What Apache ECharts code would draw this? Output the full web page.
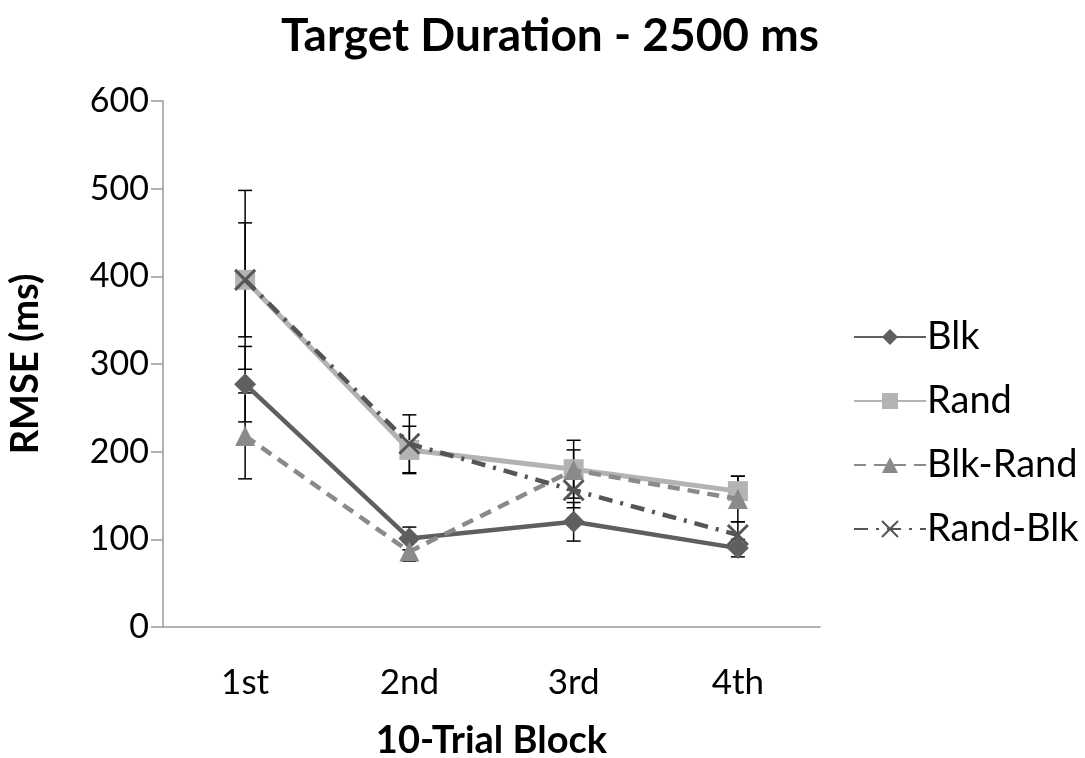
<!DOCTYPE html>
<html>
<head>
<meta charset="utf-8">
<script src="https://cdn.jsdelivr.net/npm/echarts@6/dist/echarts.min.js"></script>
<style>
  html, body { margin: 0; padding: 0; background: #fff; }
  #chart { width: 1085px; height: 758px; }
</style>
</head>
<body>
<div id="chart"></div>
<script>
// data
const blocks = ['1st', '2nd', '3rd', '4th']
const blk = [277, 101, 120, 90]
const blkErr = [43, 13, 22, 10]
const rand = [396, 202, 180, 155]
const randErr = [102, 27, 33, 17]
const blkRand = [218, 86, 179, 146]
const blkRandErr = [49, 11, 23, 26]
const randBlk = [396, 209, 156, 105]
const randBlkErr = [65, 33, 20, 15]

const FONT = 'Lato'

function errData(vals, errs) {
  return vals.map((v, i) => [i, v - errs[i], v + errs[i]])
}

// error bars: vertical line + caps
function errSeries(vals, errs) {
  return {
    type: 'custom',
    z: 1,
    silent: true,
    data: errData(vals, errs),
    renderItem: function (params, api) {
      const lo = api.coord([api.value(0), api.value(1)])
      const hi = api.coord([api.value(0), api.value(2)])
      const w = 7
      const st = { stroke: '#000', lineWidth: 1.5 }
      return {
        type: 'group',
        children: [
          { type: 'line', shape: { x1: hi[0], y1: hi[1], x2: lo[0], y2: lo[1] }, style: st },
          { type: 'line', shape: { x1: hi[0] - w, y1: hi[1], x2: hi[0] + w, y2: hi[1] }, style: st },
          { type: 'line', shape: { x1: lo[0] - w, y1: lo[1], x2: lo[0] + w, y2: lo[1] }, style: st }
        ]
      }
    }
  }
}

const chart = echarts.init(document.getElementById('chart'))
chart.setOption({
  animation: false,
  title: {
    text: 'Target Duration - 2500 ms',
    left: 545,
    textAlign: 'center',
    top: 8,
    textStyle: { fontFamily: FONT, fontWeight: 'bold', fontSize: 46, color: '#000' }
  },
  legend: {
    orient: 'vertical',
    left: 848,
    top: 313,
    itemWidth: 72,
    itemHeight: 20,
    itemGap: 26,
    textStyle: { fontFamily: FONT, fontSize: 38, color: '#000', padding: [0, 0, 0, -4] },
    data: ['Blk', 'Rand', 'Blk-Rand', 'Rand-Blk']
  },
  grid: { left: 163, right: 265, top: 101, bottom: 131, containLabel: false, outerBoundsMode: 'none' },
  xAxis: {
    type: 'category',
    data: blocks,
    name: '10-Trial Block',
    nameLocation: 'middle',
    nameGap: 95,
    nameTextStyle: { fontFamily: FONT, fontWeight: 'bold', fontSize: 38, color: '#000' },
    axisLine: { lineStyle: { color: '#999', width: 1.5 } },
    axisTick: { length: 13, lineStyle: { color: '#999', width: 1.5 } },
    axisLabel: { fontFamily: FONT, fontSize: 35, color: '#000', margin: 38 }
  },
  yAxis: {
    type: 'value',
    min: 0,
    max: 600,
    interval: 100,
    name: 'RMSE (ms)',
    nameLocation: 'middle',
    nameRotate: 90,
    nameGap: 118,
    nameTextStyle: { fontFamily: FONT, fontWeight: 'bold', fontSize: 38, color: '#000' },
    splitLine: { show: false },
    axisLine: { show: true, lineStyle: { color: '#999', width: 1.5 } },
    axisTick: { show: true, length: 12, lineStyle: { color: '#999', width: 1.5 } },
    axisLabel: { fontFamily: FONT, fontSize: 34, color: '#000', margin: 14 }
  },
  series: [
    errSeries(blk, blkErr),
    errSeries(rand, randErr),
    errSeries(blkRand, blkRandErr),
    errSeries(randBlk, randBlkErr),
    {
      name: 'Blk',
      type: 'line',
      z: 3,
      data: blk,
      symbol: 'diamond',
      symbolSize: 22,
      color: '#5f5f5f',
      lineStyle: { width: 4.5, color: '#5f5f5f' },
      itemStyle: { color: '#5f5f5f' }
    },
    {
      name: 'Rand',
      type: 'line',
      z: 2,
      data: rand,
      symbol: 'rect',
      symbolSize: 20,
      color: '#b3b3b3',
      lineStyle: { width: 5, color: '#b3b3b3' },
      itemStyle: { color: '#b3b3b3' }
    },
    {
      name: 'Blk-Rand',
      type: 'line',
      z: 4,
      data: blkRand,
      symbol: 'triangle',
      symbolSize: 20,
      color: '#8a8a8a',
      lineStyle: { width: 4.5, color: '#8a8a8a', type: [12, 8] },
      itemStyle: { color: '#8a8a8a' }
    },
    {
      name: 'Rand-Blk',
      type: 'line',
      z: 5,
      data: randBlk,
      symbol: 'path://M0,0L10,10M10,0L0,10',
      symbolSize: 20,
      color: '#555',
      lineStyle: { width: 4.5, color: '#555', type: [14, 8, 3, 8] },
      itemStyle: { color: '#555', borderColor: '#555', borderWidth: 3 }
    }
  ]
})
</script>
</body>
</html>
